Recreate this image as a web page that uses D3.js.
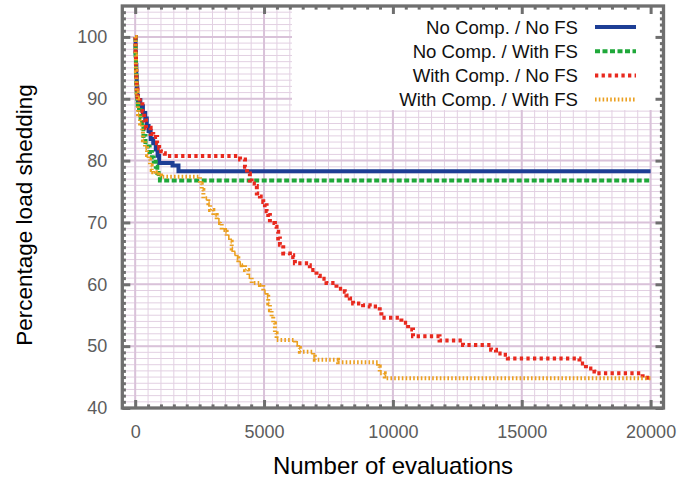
<!DOCTYPE html>
<html>
<head>
<meta charset="utf-8">
<script src="https://cdn.jsdelivr.net/npm/d3@7"></script>
<style>
  body { margin: 0; background: #fff; }
  svg { display: block; }
  text { font-family: "Liberation Sans", Arial, Helvetica, sans-serif; }
</style>
</head>
<body>
<svg id="chart" width="683" height="488"></svg>
<script>
// Best load-shedding percentage found so far versus evaluations, one step series per setup.
const seriesNames = ["No Comp. / No FS", "No Comp. / With FS", "With Comp. / No FS", "With Comp. / With FS"];

const noCompNoFsEvals = [0, 15, 30, 45, 60, 80, 110, 200, 300, 390, 450, 520, 600, 700, 800, 870, 930, 1450, 1680, 20000];
const noCompNoFsShed  = [100, 97.5, 95.5, 93.5, 92, 90.5, 89.8, 88.8, 87.7, 86.8, 85.6, 84.8, 83.5, 82.8, 81.8, 80.8, 79.6, 79.2, 78.3, 78.3];

const noCompWithFsEvals = [0, 15, 30, 45, 60, 80, 100, 150, 210, 260, 320, 400, 480, 560, 650, 720, 800, 860, 910, 960, 20000];
const noCompWithFsShed  = [100, 97, 94.5, 92.5, 91, 90, 89, 88.2, 86.8, 85.5, 84, 83, 82.3, 81.4, 80.5, 79.8, 79, 78, 77.3, 76.8, 76.8];

const withCompNoFsEvals = [0, 15, 30, 45, 60, 90, 180, 280, 350, 420, 600, 700, 850, 930, 1000, 1080, 1150,
  4000, 4070, 4260, 4340, 4450, 4520, 4710, 4720, 4840, 4970, 5035, 5100, 5163, 5228, 5422, 5486, 5550, 5615, 5745,
  6003, 6130, 6197, 6712, 6777, 7035, 7164, 7423, 7810, 8133, 8198, 8327, 8456, 8843, 9101, 9489, 9553,
  10330, 10590, 10780, 11810, 12720, 13810, 14000, 14270, 14460, 17240, 17490, 17820, 17880, 19690, 20000];
const withCompNoFsShed  = [100, 97, 95, 93, 91.5, 90.3, 89.5, 88, 86.5, 85.3, 84.3, 83.8, 82.8, 82, 81.5, 81.2, 80.75,
  80.75, 80.2, 79, 77.9, 76.8, 76.3, 75.9, 74.7, 74.2, 73.3, 72.8, 71.8, 71.2, 69.9, 69.3, 68.5, 67.4, 66.4, 65,
  64.7, 64.4, 63.4, 63.1, 62.3, 61.4, 60.9, 60.2, 59.3, 58.8, 58.2, 57.7, 56.9, 56.6, 56.4, 55.6, 54.6,
  53.8, 52.7, 51.6, 50.9, 50.2, 49.4, 48.8, 48.6, 48, 47.2, 46.4, 45.9, 45.6, 44.9, 44.9];

const withCompWithFsEvals = [0, 15, 30, 45, 60, 90, 110, 190, 270, 300, 380, 460, 520, 575, 640, 700, 800, 900, 1000,
  2517, 2582, 2646, 2840, 2905, 3033, 3163, 3292, 3357, 3486, 3550, 3680, 3745, 3808, 3937, 4002, 4131, 4260, 4390,
  4520, 4841, 4970, 5100, 5163, 5228, 5293, 5357, 5422, 5486, 6197, 6326, 6390, 6906, 6970, 7874, 9424, 9489, 9683, 9750, 20000];
const withCompWithFsShed  = [100, 97, 94.5, 92.5, 91, 90, 87.5, 86, 84.8, 83.3, 82, 80.9, 80.2, 79.2, 78.5, 78.1, 77.8, 77.6, 77.4,
  76.3, 75.25, 73.9, 73.1, 72, 71.2, 70.4, 69.9, 68.8, 68.5, 67.7, 66.9, 65.8, 65, 64.2, 63.4, 63.1, 62.3, 61.2,
  60.2, 59.9, 58.8, 58, 56.9, 55.8, 54.8, 53.7, 52.1, 51, 50.5, 49.7, 49.1, 48.3, 47.8, 47.4, 46.7, 45.6, 45.1, 44.8, 44.8];

const xTicks = [0, 5000, 10000, 15000, 20000];
const yTicks = [40, 50, 60, 70, 80, 90, 100];
const xTitle = "Number of evaluations";
const yTitle = "Percentage load shedding";

const series = [
  { name: seriesNames[0], xs: noCompNoFsEvals, ys: noCompNoFsShed, color: "#1d3e95", dash: null },
  { name: seriesNames[1], xs: noCompWithFsEvals, ys: noCompWithFsShed, color: "#1fa83a", dash: "5,2.5" },
  { name: seriesNames[2], xs: withCompNoFsEvals, ys: withCompNoFsShed, color: "#e8291e", dash: "3.3,3.3" },
  { name: seriesNames[3], xs: withCompWithFsEvals, ys: withCompWithFsShed, color: "#eba021", dash: "1.6,2.2" }
];

const svg = d3.select("#chart");
const x = d3.scaleLinear().domain([-500, 20500]).range([122.3, 663.5]);
const y = d3.scaleLinear().domain([40, 105]).range([408, 6]);
const [x0, x1] = x.range();
const [y0, y1] = y.range();

const xMinor = d3.range(-500, 20501, 500);
const yMinor = d3.range(40, 106, 1);

// Grid: thin lines on every minor step, heavier on major ticks
const grid = svg.append("g");
grid.selectAll(".vminor").data(xMinor).join("line")
  .attr("x1", d => x(d)).attr("x2", d => x(d)).attr("y1", y0).attr("y2", y1)
  .attr("stroke", "#e2d0e2").attr("stroke-width", 1);
grid.selectAll(".hminor").data(yMinor).join("line")
  .attr("x1", x0).attr("x2", x1).attr("y1", d => y(d)).attr("y2", d => y(d))
  .attr("stroke", "#e2d0e2").attr("stroke-width", 1);
grid.selectAll(".vmajor").data(xTicks).join("line")
  .attr("x1", d => x(d)).attr("x2", d => x(d)).attr("y1", y0).attr("y2", y1)
  .attr("stroke", "#d9c2d9").attr("stroke-width", 2);
grid.selectAll(".hmajor").data(yTicks).join("line")
  .attr("x1", x0).attr("x2", x1).attr("y1", d => y(d)).attr("y2", d => y(d))
  .attr("stroke", "#d9c2d9").attr("stroke-width", 2);

// Legend background hides the grid behind the key
const legendLeft = 292, legendBottom = 110;
svg.append("rect").attr("x", legendLeft).attr("y", y1).attr("width", x1 - legendLeft).attr("height", legendBottom - y1)
  .attr("fill", "#fff");

// Step curves
const line = d3.line().curve(d3.curveStepAfter);
series.forEach(s => {
  const pts = s.xs.map((v, i) => [x(v), y(s.ys[i])]);
  svg.append("path").attr("d", line(pts))
    .attr("fill", "none").attr("stroke", s.color).attr("stroke-width", 4)
    .attr("stroke-dasharray", s.dash).attr("stroke-linejoin", "miter").attr("stroke-linecap", "butt");
});

// Legend entries
const legendRow = d3.scaleLinear().domain([0, 3]).range([27, 99.6]);
const legend = svg.append("g");
series.forEach((s, i) => {
  const cy = legendRow(i);
  legend.append("text").attr("x", 578).attr("y", cy).attr("dy", "0.35em")
    .attr("text-anchor", "end").attr("font-size", 18.6).attr("fill", "#111").text(s.name);
  legend.append("line").attr("x1", 595).attr("x2", 636).attr("y1", cy).attr("y2", cy)
    .attr("stroke", s.color).attr("stroke-width", 4).attr("stroke-dasharray", s.dash);
});

// Axes: inward ticks on all four sides, labels on left and bottom
const frameColor = "#6f6f6f";
function styleAxis(g) {
  g.select(".domain").remove();
  g.selectAll(".tick line").attr("stroke", frameColor).attr("stroke-width", 3);
  g.selectAll(".tick text").attr("fill", "#5c5c5c").attr("font-size", 18)
    .attr("font-family", "Liberation Sans, Arial, sans-serif");
}
const majorLen = 8, minorLen = 3.6;
const xMinorOnly = xMinor.filter(v => !xTicks.includes(v) && v > -500 && v < 20500);
const yMinorOnly = yMinor.filter(v => !yTicks.includes(v) && v > 40 && v < 105);

svg.append("g").attr("transform", `translate(0,${y0})`)
  .call(d3.axisBottom(x).tickValues(xMinorOnly).tickSize(-minorLen).tickFormat("")).call(styleAxis);
svg.append("g").attr("transform", `translate(0,${y1})`)
  .call(d3.axisTop(x).tickValues(xMinorOnly).tickSize(-minorLen).tickFormat("")).call(styleAxis);
svg.append("g").attr("transform", `translate(${x0},0)`)
  .call(d3.axisLeft(y).tickValues(yMinorOnly).tickSize(-minorLen).tickFormat("")).call(styleAxis);
svg.append("g").attr("transform", `translate(${x1},0)`)
  .call(d3.axisRight(y).tickValues(yMinorOnly).tickSize(-minorLen).tickFormat("")).call(styleAxis);

svg.append("g").attr("transform", `translate(0,${y0})`)
  .call(d3.axisBottom(x).tickValues(xTicks).tickSize(-majorLen).tickPadding(17).tickFormat(d3.format("d"))).call(styleAxis);
svg.append("g").attr("transform", `translate(0,${y1})`)
  .call(d3.axisTop(x).tickValues(xTicks).tickSize(-majorLen).tickFormat("")).call(styleAxis);
svg.append("g").attr("transform", `translate(${x0},0)`)
  .call(d3.axisLeft(y).tickValues(yTicks).tickSize(-majorLen).tickPadding(15).tickFormat(d3.format("d"))).call(styleAxis);
svg.append("g").attr("transform", `translate(${x1},0)`)
  .call(d3.axisRight(y).tickValues(yTicks).tickSize(-majorLen).tickFormat("")).call(styleAxis);

// Frame
svg.append("rect").attr("x", x0).attr("y", y1).attr("width", x1 - x0).attr("height", y0 - y1)
  .attr("fill", "none").attr("stroke", frameColor).attr("stroke-width", 3.3);

// Axis titles
svg.append("text").attr("x", 393).attr("y", 474).attr("text-anchor", "middle")
  .attr("font-size", 24).attr("fill", "#000").text(xTitle);
svg.append("text").attr("transform", "translate(32,215) rotate(-90)").attr("text-anchor", "middle")
  .attr("font-size", 22.5).attr("fill", "#000").text(yTitle);
</script>
</body>
</html>
